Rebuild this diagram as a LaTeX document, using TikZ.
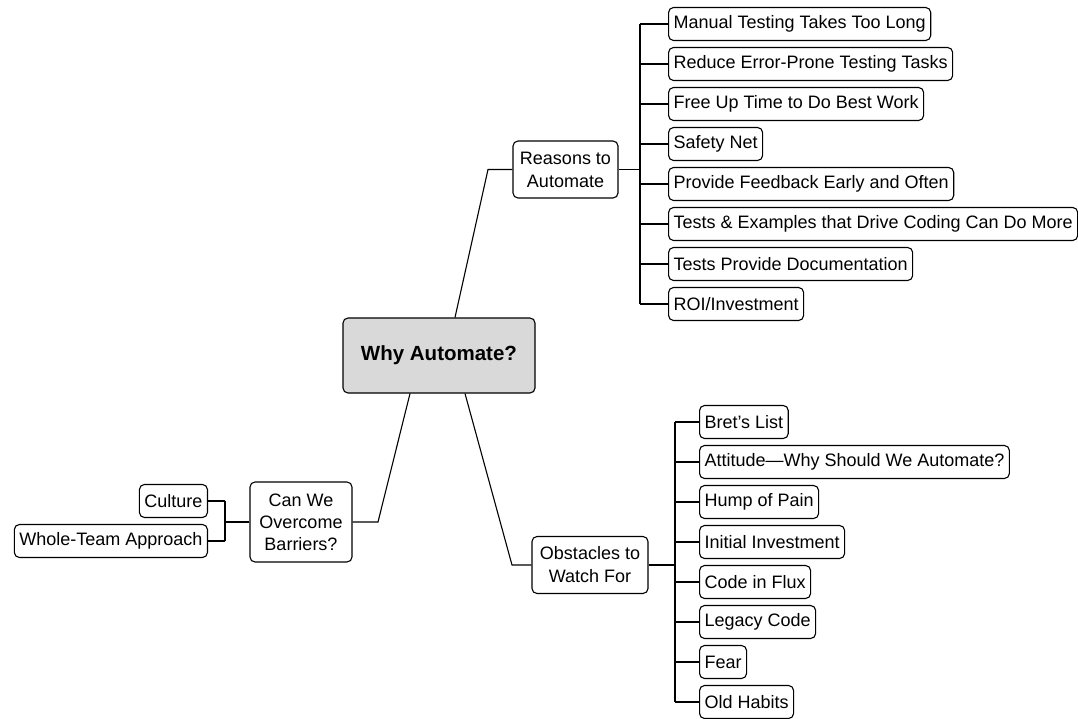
\documentclass[tikz,border=0pt]{standalone}
\usepackage{fontspec}
\setmainfont{Liberation Sans}
\begin{document}
\begin{tikzpicture}[x=1pt, y=-1pt,
    box/.style={draw, line width=1.1pt, rounded corners=5pt, inner xsep=5pt, inner ysep=0pt,
        minimum height=33pt, font=\fontsize{18}{23}\selectfont, align=center},
    wire/.style={line width=1.1pt}]
    \useasboundingbox (0,0) rectangle (1078,719);

    % Central topic
    \node[box, fill=black!15, minimum width=192pt, minimum height=75pt,
        font=\bfseries\fontsize{20.5}{24}\selectfont] (why) at (439,355.5) {Why Automate?};

    % Main branches
    \node[box, minimum width=105pt, minimum height=57pt] (reasons) at (565.5,169.5) {Reasons to\\Automate};
    \node[box, minimum width=116pt, minimum height=57pt] (obstacles) at (590,565) {Obstacles to\\Watch For};
    \node[box, minimum width=102pt, minimum height=80pt, font=\fontsize{18}{22}\selectfont] (barriers) at (301,522) {Can We\\Overcome\\Barriers?};

    \coordinate (rj) at (488,169.5);
    \coordinate (oj) at (512,565);
    \coordinate (bj) at (378,522);
    \draw[wire] ([xshift=16pt]why.north) -- (rj) -- (reasons.west);
    \draw[wire] ([xshift=26pt]why.south) -- (oj) -- (obstacles.west);
    \draw[wire] ([xshift=-29pt]why.south) -- (bj) -- (barriers.east);

    % Reasons to Automate
    \coordinate (rs) at (640,169.5);
    \draw[wire] (reasons.east) -- (rs);
    \foreach \i/\y/\txt in {1/24/Manual Testing Takes Too Long, 2/64/Reduce Error-Prone Testing Tasks,
        3/104/Free Up Time to Do Best Work, 4/144/Safety Net, 5/184/Provide Feedback Early and Often,
        6/224/Tests \& Examples that Drive Coding Can Do More, 7/264/Tests Provide Documentation,
        8/304/{ROI/Investment}} {
        \node[box, anchor=west] (r\i) at (668,\y) {\txt};
        \coordinate (rb\i) at (640,\y);
        \draw[wire] (rb\i) -- (r\i.west);
    }
    \draw[wire] (rb1) -- (rb8);

    % Obstacles to Watch For
    \coordinate (os) at (675,565);
    \draw[wire] (obstacles.east) -- (os);
    \foreach \i/\y/\txt in {1/422/Bret’s List, 2/462/Attitude—Why Should We Automate?,
        3/502/Hump of Pain, 4/542/Initial Investment, 5/582/Code in Flux,
        6/622/Legacy Code, 7/662/Fear, 8/702/Old Habits} {
        \node[box, anchor=west] (o\i) at (699,\y) {\txt};
        \coordinate (ob\i) at (675,\y);
        \draw[wire] (ob\i) -- (o\i.west);
    }
    \draw[wire] (ob1) -- (ob8);

    % Can We Overcome Barriers?
    \coordinate (bs) at (225,522);
    \draw[wire] (barriers.west) -- (bs);
    \foreach \i/\y/\txt in {1/501/Culture, 2/541/Whole-Team Approach} {
        \node[box, anchor=east] (b\i) at (208,\y) {\txt};
        \coordinate (bb\i) at (225,\y);
        \draw[wire] (bb\i) -- (b\i.east);
    }
    \draw[wire] (bb1) -- (bb2);
\end{tikzpicture}
\end{document}
